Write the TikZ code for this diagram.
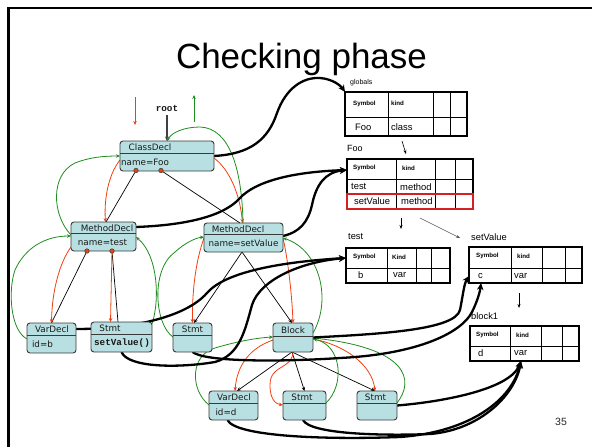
\documentclass[tikz,border=0pt]{standalone}
\usepackage{fontspec}
\setmainfont{Liberation Sans}
\newfontfamily\nodefont{DejaVu Sans}
\newfontfamily\monofont{Liberation Mono}
\usetikzlibrary{arrows.meta}
\pgfdeclarelayer{bg}
\pgfsetlayers{bg,main}
\definecolor{boxfill}{HTML}{B8E0E2}
\definecolor{boxdraw}{HTML}{3A3A3A}
\definecolor{redarr}{HTML}{F0400F}
\definecolor{greenarr}{HTML}{1E8C1E}
\definecolor{redbox}{HTML}{D42020}
\tikzset{
 astbox/.style={draw=boxdraw, fill=boxfill, rounded corners=3pt, line width=0.9pt, inner sep=0pt, outer sep=0pt},
 divider/.style={draw=boxdraw, line width=0.9pt},
 asttext/.style={font=\nodefont\fontsize{8.8}{10}\selectfont, text=black!90, inner sep=0pt},
 monotext/.style={font=\monofont\bfseries\fontsize{9.3}{10}\selectfont, text=black!90, inner sep=0pt},
 redar/.style={draw=redarr, line width=0.8pt, -{Stealth[length=4pt,width=3.5pt]}},
 greenar/.style={draw=greenarr, line width=0.8pt, -{Stealth[length=4pt,width=3.5pt]}},
 treeedge/.style={draw=black, line width=0.7pt},
 treearrow/.style={treeedge, -{Stealth[length=4pt,width=3.5pt]}},
 scopearrow/.style={draw=black, line width=2.3pt, -{Stealth[length=7pt,width=6.5pt]}},
 thinarrow/.style={draw=black, line width=0.6pt, -{Stealth[length=4pt,width=3pt]}},
 grayarrow/.style={draw=black!65, line width=0.45pt, -{Stealth[length=4pt,width=3pt]}},
 tabouter/.style={draw=black, line width=1.4pt, inner sep=0pt, outer sep=0pt},
 tabinner/.style={draw=black, line width=0.9pt},
 headtext/.style={font=\bfseries\fontsize{6.2}{7}\selectfont, anchor=west, inner sep=0pt},
 celltext/.style={font=\fontsize{9.4}{10}\selectfont, anchor=west, inner sep=0pt},
 tablabel/.style={font=\fontsize{9.3}{10}\selectfont, anchor=west, inner sep=0pt},
 reddot/.style={circle, fill=redarr, draw=boxdraw, line width=0.5pt, minimum size=4.5pt, inner sep=0pt},
}
\newcommand\astbox[5]{\node[astbox, anchor=north west, minimum width={#4-#2}, minimum height={#5-#3}] (#1) at (#2,#3) {};}
\begin{document}
\begin{tikzpicture}[x=1pt,y=-1pt]
\useasboundingbox (0,0) rectangle (592,447);
% frame
\draw[line width=2.5pt] (8.5,447) -- (8.5,8) -- (592,8);
% title
\node[font=\fontsize{35}{40}\selectfont, anchor=base, inner sep=0pt] (title) at (301.5,68) {Checking phase};

% ---------- AST nodes ----------
\astbox{cd}{120}{141}{214}{171}
\draw[divider] (120,153) -- (214,153);
\node[asttext] (cd-t) at (150,147) {ClassDecl};
\node[asttext] (cd-b) at (145,162) {name=Foo};

\astbox{mdt}{71}{222}{136}{251}
\draw[divider] (71,233) -- (136,233);
\node[asttext] (mdt-t) at (107,228) {MethodDecl};
\node[asttext] (mdt-b) at (102.5,242.5) {name=test};

\astbox{mds}{204}{223}{283}{252}
\draw[divider] (204,234) -- (283,234);
\node[asttext] (mds-t) at (238,229) {MethodDecl};
\node[asttext] (mds-b) at (243.5,243.5) {name=setValue};

\astbox{vdb}{27}{323}{76}{353}
\draw[divider] (27,335) -- (76,335);
\node[asttext] (vdb-t) at (52,329.5) {VarDecl};
\node[asttext] (vdb-b) at (42.5,344.5) {id=b};

\astbox{stA}{91}{322}{152}{352}
\draw[divider] (91,334) -- (152,334);
\node[asttext] (stA-t) at (110,328.5) {Stmt};
\node[monotext] (stA-b) at (122,343) {setValue()};

\astbox{stB}{173}{323}{212}{352}
\draw[divider] (173,335) -- (212,335);
\node[asttext] (stB-t) at (192.5,329.5) {Stmt};

\astbox{blk}{273}{323}{313}{352}
\draw[divider] (273,336) -- (313,336);
\node[asttext] (blk-t) at (293,330) {Block};

\astbox{vdd}{209}{391}{258}{420}
\draw[divider] (209,403) -- (258,403);
\node[asttext] (vdd-t) at (234,397.5) {VarDecl};
\node[asttext] (vdd-b) at (226,412) {id=d};

\astbox{stC}{283}{391}{326}{420}
\draw[divider] (283,403) -- (326,403);
\node[asttext] (stC-t) at (302,397.5) {Stmt};

\astbox{stD}{357}{391}{397}{420}
\draw[divider] (357,403) -- (397,403);
\node[asttext] (stD-t) at (375.5,397.5) {Stmt};

% red dots
\node[reddot] (d1) at (136,170.5) {};
\node[reddot] (d2) at (161,170.5) {};
\node[reddot] (d3) at (87,251) {};
\node[reddot] (d4) at (112,251) {};

% root label and free arrow ends
\node[monotext] (root) at (167,108) {root};
\coordinate (rtop1) at (135,97);
\coordinate (rtop2) at (135,125);
\coordinate (gtop1) at (194,122);
\coordinate (gtop2) at (194,95);

% ---------- symbol tables ----------
\node[tablabel, font=\fontsize{7}{8}\selectfont] (lglob) at (350,83) {globals};
\node[tabouter, anchor=north west, minimum width=122, minimum height=44] (tglob) at (345,92) {};
\draw[tabinner] (345,117) -- (467,117) (388,92) -- (388,136) (433,92) -- (433,136) (450,92) -- (450,136);
\node[headtext] (tglob-h1) at (353,103.5) {Symbol};
\node[headtext] (tglob-h2) at (391,103.5) {kind};
\node[celltext] (tglob-c1) at (355,127) {Foo};
\node[celltext] (tglob-c2) at (391,127) {class};

\node[tablabel, font=\fontsize{9}{10}\selectfont] (lfoo) at (347,148) {Foo};
\node[tabouter, anchor=north west, minimum width=126, minimum height=50] (tfoo) at (347,159) {};
\draw[tabinner] (347,179) -- (473,179) (347,194) -- (473,194) (396,159) -- (396,209) (435,159) -- (435,209) (455,159) -- (455,209);
\draw[draw=redbox, line width=1.4pt] (347,194) rectangle (473,209);
\node[headtext] (tfoo-h1) at (353,168) {Symbol};
\node[headtext] (tfoo-h2) at (402,168) {kind};
\node[celltext] (tfoo-c1) at (351,187) {test};
\node[celltext] (tfoo-c2) at (400,187) {method};
\node[celltext] (tfoo-c3) at (354,201.5) {setValue};
\node[celltext] (tfoo-c4) at (401,201.5) {method};

\node[tablabel] (ltest) at (348,237) {test};
\node[tabouter, anchor=north west, minimum width=104, minimum height=35] (ttest) at (346,248) {};
\draw[tabinner] (346,268) -- (450,268) (387,248) -- (387,283) (416,248) -- (416,283) (431,248) -- (431,283);
\node[headtext] (ttest-h1) at (353,257) {Symbol};
\node[headtext] (ttest-h2) at (392,257) {Kind};
\node[celltext] (ttest-c1) at (358,275.5) {b};
\node[celltext] (ttest-c2) at (393,275.5) {var};

\node[tablabel] (lsv) at (471,237) {setValue};
\node[tabouter, anchor=north west, minimum width=113, minimum height=36] (tsv) at (469,247) {};
\draw[tabinner] (469,268) -- (582,268) (511,247) -- (511,283) (542,247) -- (542,283) (565,247) -- (565,283);
\node[headtext] (tsv-h1) at (476,256) {Symbol};
\node[headtext] (tsv-h2) at (517,256) {kind};
\node[celltext] (tsv-c1) at (478,276) {c};
\node[celltext] (tsv-c2) at (514,276) {var};

\node[tablabel] (lb1) at (471,316) {block1};
\node[tabouter, anchor=north west, minimum width=109, minimum height=35] (tb1) at (470,326) {};
\draw[tabinner] (470,346) -- (579,346) (510,326) -- (510,361) (541,326) -- (541,361) (562,326) -- (562,361);
\node[headtext] (tb1-h1) at (476,335) {Symbol};
\node[headtext] (tb1-h2) at (516,335) {kind};
\node[celltext] (tb1-c1) at (478,353.5) {d};
\node[celltext] (tb1-c2) at (514,353.5) {var};

\node[font=\fontsize{10.5}{12}\selectfont, text=black!85, inner sep=0pt] (pageno) at (561,422) {35};

% ---------- connectors ----------
\begin{pgfonlayer}{bg}
% top arrows
\draw[redar] (rtop1) -- (rtop2);
\draw[greenar] (gtop1) -- (gtop2);
\draw[draw=black!75, line width=1.1pt, -{Stealth[length=4.5pt,width=4pt]}] ([yshift=-4pt]root.south) -- (cd.north);

% tree edges
\draw[treeedge] (d1) -- ([xshift=2.5pt]mdt.north);
\draw[treeedge] (d2) -- ([xshift=-3.5pt]mds.north);
\draw[treeedge] (d3) -- (vdb.north);
\draw[treeedge] (d4) -- ([xshift=-3.5pt]stA.north);
\draw[treearrow] ([xshift=-1.5pt]mds.south) -- ([xshift=1.5pt]stB.north);
\draw[treearrow] ([xshift=-1.5pt]mds.south) -- ([xshift=-1pt]blk.north);
\draw[treearrow] ([xshift=-1pt]blk.south) -- ([xshift=3.5pt]vdd.north);
\draw[treearrow] ([xshift=-1pt]blk.south) -- (stC.north);
\draw[treearrow] ([xshift=-1pt]blk.south) -- ([xshift=-2pt]stD.north);

% red (down) traversal
\draw[redar] ([yshift=-19pt]cd.north west) .. controls (108,175) and (104,200) .. ([xshift=2pt]mdt.north);
\draw[redar] ([yshift=-17pt]cd.north east) .. controls (230,170) and (240,195) .. ([xshift=-1pt]mds.north);
\draw[redar] ([yshift=-25pt]mdt.north west) .. controls (60,262) and (52,290) .. (vdb.north);
\draw[redar] (d4) -- ([xshift=-11pt]stA.north);
\draw[redar] ([yshift=-15pt]mds.north west) .. controls (196,260) and (192,290) .. (stB.north);
\draw[redar] ([yshift=-15pt]mds.north east) .. controls (288,260) and (292,295) .. (blk.north);
\draw[redar] ([yshift=-17pt]blk.north west) .. controls (250,348) and (237,365) .. ([xshift=1.5pt]vdd.north);
\draw[redar] (blk.south) .. controls (292,370) and (270,364) .. (270,385) .. controls (270,400) and (276,404) .. ([yshift=-14pt]stC.north west);
\draw[redar] ([yshift=-16pt]blk.north east) .. controls (345,345) and (372,365) .. ([xshift=-2pt]stD.north);

% green (up) traversal
\draw[greenar] ([yshift=-13pt]mdt.north west) .. controls (52,215) and (50,175) .. (75,163) .. controls (90,157) and (105,156) .. ([yshift=-15pt]cd.north west);
\draw[greenar] ([xshift=-0.5pt]mds.north) .. controls (242,170) and (230,128) .. (200,127) .. controls (185,127) and (172,132) .. (cd.north);
\draw[greenar] ([yshift=-16pt]vdb.north west) .. controls (10,330) and (8,290) .. (15,270) .. controls (25,248) and (45,236) .. ([yshift=-14pt]mdt.north west);
\draw[greenar] ([yshift=-2pt]stA.north east) .. controls (160,300) and (158,255) .. ([yshift=-15pt]mdt.north east);
\draw[greenar] ([yshift=-14pt]stB.north west) .. controls (155,325) and (150,270) .. (175,252) .. controls (185,243) and (195,238) .. ([yshift=-14pt]mds.north west);
\draw[greenar] ([yshift=-10pt]blk.north east) .. controls (332,300) and (320,250) .. ([yshift=-15pt]mds.north east);
\draw[greenar] ([yshift=-14pt]vdd.north west) .. controls (190,390) and (190,355) .. (215,348) .. controls (235,342) and (255,338) .. ([yshift=-14pt]blk.north west);
\draw[greenar] ([yshift=-12pt]stC.north east) .. controls (345,385) and (342,345) .. ([yshift=-16pt]blk.north east);
\draw[greenar] ([yshift=-12pt]stD.north east) .. controls (415,380) and (408,348) .. ([yshift=-15pt]blk.north east);

% scope pointers (thick)
\draw[scopearrow] (cd.east) .. controls (250,154) and (268,140) .. (277,113) .. controls (286,88) and (303,77) .. (320,78) .. controls (333,79) and (341,86) .. (tglob.north west);
\draw[scopearrow] ([yshift=-5pt]mdt.north east) .. controls (190,225) and (225,215) .. (240,198) .. controls (255,182) and (290,172) .. ([yshift=-11pt]tfoo.north west);
\draw[scopearrow] ([yshift=-13pt]mds.north east) .. controls (300,232) and (308,222) .. (312,205) .. controls (316,185) and (325,172) .. ([yshift=-11pt]tfoo.north west);
\draw[scopearrow] ([yshift=-6pt]vdb.north east) .. controls (130,329) and (185,318) .. (207,293) .. controls (225,272) and (280,262) .. ([yshift=-10pt]ttest.north west);
\draw[scopearrow] (stA.south) .. controls (128,368) and (180,368) .. (215,362) .. controls (240,355) and (245,330) .. (252,305) .. controls (260,280) and (300,262) .. ([yshift=-10pt]ttest.north west);
\draw[scopearrow] (blk.east) .. controls (380,334) and (455,330) .. (460,310) .. controls (463,295) and (464,284) .. ([yshift=-29pt]tsv.north west);
\draw[scopearrow] (stB.south) .. controls (205,362) and (280,362) .. (340,358) .. controls (420,354) and (462,332) .. (472,312) .. controls (477,302) and (480,292) .. ([xshift=12pt]tsv.south west);
\draw[scopearrow] ([xshift=-6pt]vdd.south) .. controls (235,436) and (320,440) .. (400,437) .. controls (470,432) and (512,400) .. ([xshift=51pt]tb1.south west);
\draw[scopearrow] ([xshift=-1.5pt]stC.south) .. controls (310,434) and (380,436) .. (430,434) .. controls (480,430) and (515,395) .. ([xshift=51pt]tb1.south west);
\draw[scopearrow] (stD.east) .. controls (440,402) and (510,390) .. ([xshift=51pt]tb1.south west);

% table-to-table links
\draw[thinarrow] ([xshift=-4pt,yshift=-5pt]tglob.south) -- ([xshift=-4pt,yshift=5pt]tfoo.north);
\draw[thinarrow] ([xshift=-9pt,yshift=-9pt]tfoo.south) -- ([xshift=3pt,yshift=19pt]ttest.north);
\draw[grayarrow] ([xshift=10pt,yshift=-9pt]tfoo.south) -- ([xshift=-9pt,yshift=9pt]tsv.north west);
\draw[thinarrow] ([xshift=-6.5pt,yshift=-10pt]tsv.south) -- ([xshift=-5.5pt,yshift=18pt]tb1.north);
\end{pgfonlayer}
\end{tikzpicture}
\end{document}
